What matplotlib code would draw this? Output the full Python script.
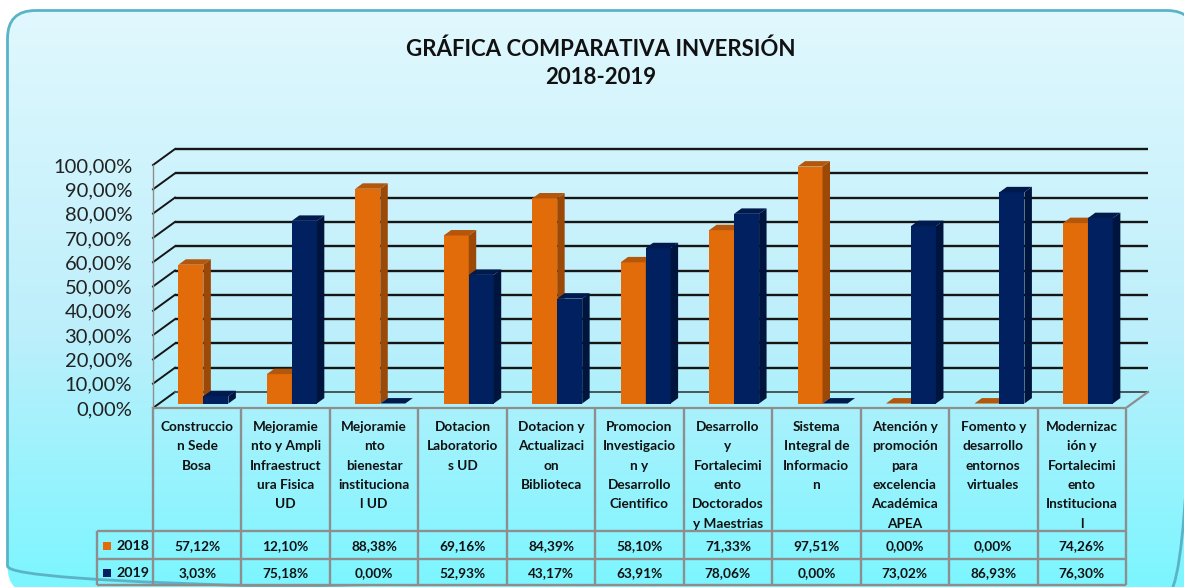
import numpy as np
import matplotlib
matplotlib.use("Agg")
import matplotlib.pyplot as plt
from matplotlib.patches import FancyBboxPatch, Polygon, Rectangle
from matplotlib.colors import to_rgb

# ---------------- data ----------------
categories = [
    "Construccio\nn Sede\nBosa",
    "Mejoramie\nnto y Ampli\nInfraestruct\nura Fisica\nUD",
    "Mejoramie\nnto\nbienestar\ninstituciona\nl UD",
    "Dotacion\nLaboratorio\ns UD",
    "Dotacion y\nActualizaci\non\nBiblioteca",
    "Promocion\nInvestigacio\nn y\nDesarrollo\nCientifico",
    "Desarrollo\ny\nFortalecimi\nento\nDoctorados\ny Maestrias",
    "Sistema\nIntegral de\nInformacio\nn",
    "Atención y\npromoción\npara\nexcelencia\nAcadémica\nAPEA",
    "Fomento y\ndesarrollo\nentornos\nvirtuales",
    "Modernizac\nión y\nFortalecimi\nento\nInstituciona\nl",
]
series_names = ["2018", "2019"]
values_2018 = [57.12, 12.10, 88.38, 69.16, 84.39, 58.10, 71.33, 97.51, 0.00, 0.00, 74.26]
values_2019 = [3.03, 75.18, 0.00, 52.93, 43.17, 63.91, 78.06, 0.00, 73.02, 86.93, 76.30]
y_ticks = [0, 10, 20, 30, 40, 50, 60, 70, 80, 90, 100]
title_lines = ["GRÁFICA COMPARATIVA INVERSIÓN", "2018-2019"]

# ---------------- style ----------------
FONT = "Lato"
plt.rcParams["font.family"] = [FONT, "DejaVu Sans"]
OR_FRONT, OR_SIDE, OR_TOP = "#E36C0A", "#9C4806", "#B4560C"
NV_FRONT, NV_SIDE, NV_TOP = "#002060", "#00153E", "#001A4E"
GRID_C = "#161616"
TABLE_C = "#8E8E8E"

def fmt(v):
    return f"{v:.2f}".replace(".", ",") + "%"

W, H = 1184, 587
fig = plt.figure(figsize=(W / 100, H / 100), dpi=100, facecolor="white")

def px_axes(x0, y0, x1, y1, **kw):
    return fig.add_axes([x0 / W, 1 - y1 / H, (x1 - x0) / W, (y1 - y0) / H], **kw)

# ---------------- background ----------------
bg = fig.add_axes([0, 0, 1, 1], zorder=-5)
bg.set_xlim(0, W); bg.set_ylim(H, 0); bg.axis("off")
stop_y = [10, 330, 587]
stop_c = [to_rgb("#E1F8FE"), to_rgb("#BDEFFB"), to_rgb("#7CF6FF")]
yy = np.linspace(0, H, 300)
grad = np.stack([np.interp(yy, stop_y, [c[i] for c in stop_c]) for i in range(3)], axis=-1)[:, None, :]
im = bg.imshow(grad, extent=(0, W, H, 0), aspect="auto", zorder=0, interpolation="bilinear")
box = FancyBboxPatch((7.5, 10.5), 1195 - 7.5, 594 - 10.5,
                     boxstyle="round,pad=0,rounding_size=28",
                     transform=bg.transData, facecolor="none",
                     edgecolor="#5BB3C7", lw=2.0, zorder=2)
bg.add_patch(box)
im.set_clip_path(box)

# ---------------- title ----------------
fig.text(601 / W, 1 - 49 / H, title_lines[0], ha="center", va="center",
         fontsize=16, fontweight="bold", color="#111111")
fig.text(601 / W, 1 - 78 / H, title_lines[1], ha="center", va="center",
         fontsize=16, fontweight="bold", color="#111111")

# ---------------- 3D-like column chart ----------------
n = len(categories)
CW = 88.45          # px per category (front)
PY = 2.43           # px per percent
DXp, DYp = 22, 16   # wall depth in px
X0, Y0 = 153, 408   # front-left-bottom corner
ddx, ddy = DXp / CW, DYp / PY

ax = px_axes(X0, Y0 - 100 * PY - DYp, X0 + n * CW + DXp, Y0)
ax.set_xlim(0, n + ddx)
ax.set_ylim(0, 100 + ddy)
ax.patch.set_alpha(0)
for s in ax.spines.values():
    s.set_visible(False)
ax.set_xticks([])
ax.set_yticks(y_ticks)
ax.set_yticklabels([fmt(v) for v in y_ticks])
ax.tick_params(axis="y", length=0, pad=15, labelsize=14.5, colors="#222222")

# back-wall gridlines + left-wall diagonals
for v in y_ticks:
    ax.plot([0, ddx], [v, v + ddy], color=GRID_C, lw=1.4, zorder=1, clip_on=False)
    if v > 0:
        ax.plot([ddx, n + ddx], [v + ddy, v + ddy], color=GRID_C, lw=1.7, zorder=1,
                clip_on=False, solid_capstyle="butt")
# floor
ax.plot([ddx, n + ddx], [ddy, ddy], color="#4A5558", lw=1.4, zorder=1, clip_on=False)
ax.plot([0, n, n + ddx], [0, 0, ddy], color=TABLE_C, lw=1.6, zorder=1, clip_on=False)
ax.plot([0, 0], [0, 100], color=TABLE_C, lw=1.0, zorder=1, clip_on=False)

f0, f1 = 0.28, 0.34
bw = 25 / CW
centers = np.arange(n) + 0.5 + f0 * ddx
base = f0 * ddy
sdx, sdy = f1 * ddx, f1 * ddy

b18 = ax.bar(centers - bw, values_2018, width=bw, bottom=base, align="edge",
             color=OR_FRONT, lw=0, zorder=3)
b19 = ax.bar(centers, values_2019, width=bw, bottom=base, align="edge",
             color=NV_FRONT, lw=0, zorder=4)
for cont, side_c, top_c, z in [(b18, OR_SIDE, OR_TOP, 3), (b19, NV_SIDE, NV_TOP, 4)]:
    for r in cont.patches:
        x, w, y0 = r.get_x(), r.get_width(), r.get_y()
        y1 = y0 + r.get_height()
        ax.add_patch(Polygon([(x + w, y0), (x + w, y1), (x + w + sdx, y1 + sdy),
                              (x + w + sdx, y0 + sdy)], closed=True,
                             facecolor=side_c, lw=0, zorder=z))
        ax.add_patch(Polygon([(x, y1), (x + w, y1), (x + w + sdx, y1 + sdy),
                              (x + sdx, y1 + sdy)], closed=True,
                             facecolor=top_c, lw=0, zorder=z))

# ---------------- data table ----------------
TY0, TY1 = 409, 585
tx = px_axes(X0, TY0, X0 + n * CW, TY1)
tx.set_xlim(0, n)
tx.set_ylim(TY1 - TY0, 0)
tx.axis("off")
HDR, R1, R2 = 122, 150, 176
LEG_L = (97 - X0) / CW

for k in range(n + 1):
    tx.plot([k, k], [0, R2], color=TABLE_C, lw=1.7, clip_on=False, solid_capstyle="butt")
for yv in [HDR, R1, R2]:
    tx.plot([LEG_L, n], [yv, yv], color=TABLE_C, lw=1.7, clip_on=False, solid_capstyle="butt")
tx.plot([LEG_L, LEG_L], [HDR, R2], color=TABLE_C, lw=1.7, clip_on=False, solid_capstyle="butt")

TFS = 9.8
for i, lab in enumerate(categories):
    for j, line in enumerate(lab.split("\n")):
        tx.text(i + 0.5, 18 + 19.3 * j, line, ha="center", va="center",
                fontsize=TFS, fontweight="bold", color="#111111")
for row_y, vals in [((HDR + R1) / 2, values_2018), ((R1 + R2) / 2, values_2019)]:
    for i, v in enumerate(vals):
        tx.text(i + 0.5, row_y + 1, fmt(v), ha="center", va="center",
                fontsize=TFS, fontweight="bold", color="#111111")

sq_w = 8 / CW
for row_y, name, col in [((HDR + R1) / 2, series_names[0], OR_FRONT),
                         ((R1 + R2) / 2, series_names[1], NV_FRONT)]:
    tx.add_patch(Rectangle(((103 - X0) / CW, row_y - 3), sq_w, 8, facecolor=col,
                           lw=0, clip_on=False))
    tx.text((116 - X0) / CW, row_y + 1, name, ha="left", va="center",
            fontsize=TFS + 0.5, fontweight="bold", color="#111111")

fig.savefig("out.png", dpi=100, facecolor="white")
